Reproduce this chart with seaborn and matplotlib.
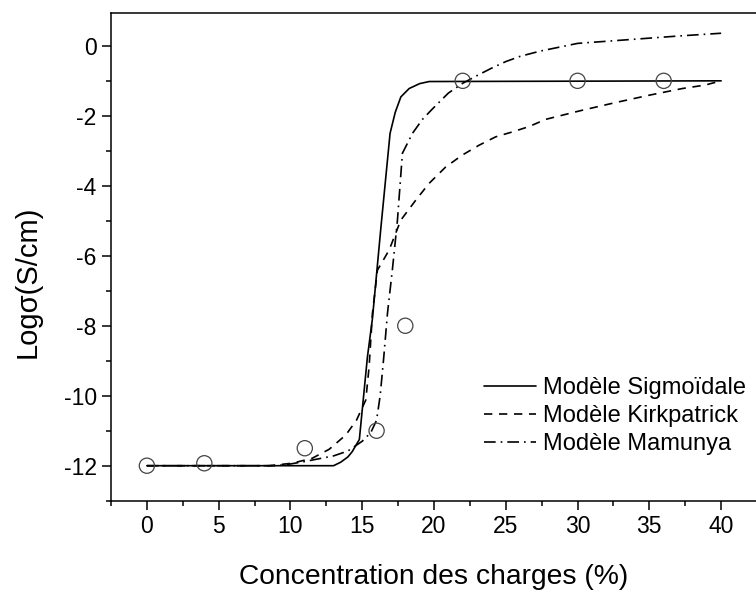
import numpy as np
import pandas as pd
import matplotlib
matplotlib.use("Agg")
import matplotlib.pyplot as plt
from matplotlib.ticker import MultipleLocator
import seaborn as sns

# ---- data ----
exp_x = [0, 4, 11, 16, 18, 22, 30, 36]
exp_y = [-12.0, -11.93, -11.5, -11.0, -8.0, -1.0, -1.0, -1.0]

sig_x = [0, 13.0, 13.5, 14.0, 14.3, 14.8, 15.36, 15.71, 16.3, 16.94, 17.3, 17.69, 18.27, 19.0, 19.66, 40]
sig_y = [-12.0, -12.0, -11.9, -11.75, -11.6, -11.25, -8.9, -7.8, -5.2, -2.5, -1.9, -1.46, -1.22, -1.08, -1.02, -1.0]

kirk_x = [0, 8.5, 10.1, 11.5, 12.7, 13.86, 14.6, 15.25, 15.48, 15.71, 16.06, 16.87, 17.69, 18.73,
          19.66, 20.82, 21.98, 23.14, 24.3, 25.46, 26.6, 27.79, 30.33, 32.66, 35.0, 37.3, 38.9, 40]
kirk_y = [-12.0, -12.0, -11.93, -11.79, -11.53, -11.12, -10.7, -10.12, -9.17, -7.65, -6.41, -5.84, -4.98, -4.41,
          -3.93, -3.46, -3.12, -2.84, -2.6, -2.46, -2.31, -2.1, -1.84, -1.62, -1.41, -1.22, -1.12, -1.0]

mam_x = [0, 9, 10, 11, 12, 13, 14, 15, 15.6, 16.0, 16.25, 16.5, 16.76, 17.1, 17.45, 17.8, 18.5, 19.2,
         19.85, 21, 22, 23, 24, 25, 26, 27.4, 30, 33, 37, 40]
mam_y = [-12.0, -12.0, -11.95, -11.88, -11.8, -11.72, -11.58, -11.3, -11.05, -10.7, -10.0, -8.9, -7.64, -6.4,
         -5.0, -3.07, -2.5, -2.1, -1.82, -1.35, -1.07, -0.85, -0.64, -0.45, -0.3, -0.15, 0.07, 0.16, 0.28, 0.36]

labels = ["Modèle Sigmoïdale", "Modèle Kirkpatrick", "Modèle Mamunya"]
xticks = [0, 5, 10, 15, 20, 25, 30, 35, 40]
yticks = [-12, -10, -8, -6, -4, -2, 0]

# ---- style ----
sns.set_theme(style="ticks")
plt.rcParams["font.family"] = ["Liberation Sans", "DejaVu Sans"]
plt.rcParams["axes.linewidth"] = 1.1
plt.rcParams["axes.unicode_minus"] = False

fig = plt.figure(figsize=(7.56, 5.9), dpi=100)
W, H = 756, 590
ax = fig.add_axes([111 / W, (H - 500.7) / H, 646 / W, 487.4 / H])

lw = 1.2
sns.lineplot(x=sig_x, y=sig_y, ax=ax, color="black", lw=lw, sort=False,
             label=labels[0], estimator=None)
sns.lineplot(x=kirk_x, y=kirk_y, ax=ax, color="black", lw=lw, sort=False,
             label=labels[1], estimator=None)
sns.lineplot(x=mam_x, y=mam_y, ax=ax, color="black", lw=lw, sort=False,
             label=labels[2], estimator=None)
lines = ax.get_lines()
lines[1].set_linestyle((0, (5, 4)))
lines[2].set_linestyle((0, (7, 3, 1, 3)))

sns.scatterplot(x=exp_x, y=exp_y, ax=ax, marker="o", s=120, facecolor="none",
                edgecolor="#444444", linewidth=0.9, zorder=5)

ax.set_xlim(-2.5, 42.5)
ax.set_ylim(-13, 0.93)
ax.set_xticks(xticks)
ax.set_yticks(yticks)
ax.xaxis.set_minor_locator(MultipleLocator(2.5))
ax.yaxis.set_minor_locator(MultipleLocator(1))
ax.tick_params(which="major", direction="out", length=6.3, width=1.1, color="black",
               labelsize=16.5, pad=4, labelcolor="black")
ax.tick_params(which="minor", direction="out", length=3.8, width=1.1, color="black")
for s in ax.spines.values():
    s.set_color("black")
    s.set_visible(True)

ax.set_xlabel("Concentration des charges (%)", fontsize=20.3, color="black")
ax.set_ylabel("Logσ(S/cm)", fontsize=21, color="black")
ax.xaxis.set_label_coords(0.5, -0.13)
ax.yaxis.set_label_coords(-0.108, 0.45)

leg = ax.legend(loc="upper left", bbox_to_anchor=(484 / W, (H - 377) / H),
                bbox_transform=fig.transFigure, frameon=False, fontsize=17,
                handlelength=2.2, handletextpad=0.3, labelspacing=0.26,
                borderpad=0, borderaxespad=0)
for t in leg.get_texts():
    t.set_color("black")

fig.savefig("out.png", dpi=100)
